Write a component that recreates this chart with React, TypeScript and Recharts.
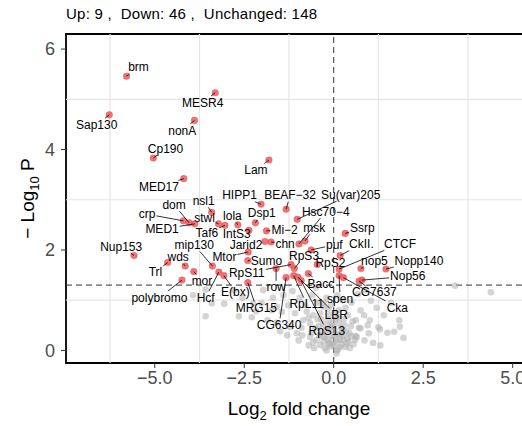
import React from 'react';
import { ScatterChart, Scatter, XAxis, YAxis, ReferenceLine, ReferenceArea } from 'recharts';

// ---------- data ----------
const downGenes = ['brm','MESR4','Sap130','nonA','Cp190','MED17','Lam','HIPP1','BEAF\u221232','Su(var)205','Hsc70\u22124','nsl1','crp','dom','MED1','stwl','Taf6','lola','IntS3','Dsp1','Mi\u22122','msk','chn','Jarid2','puf','Nup153','mip130','Mtor','Sumo','wds','Trl','mor','polybromo','Hcf','E(bx)','RpS11','RpS3','RpS2','row','MRG15','Bacc','RpL11','CG6340','RpS13','LBR'];
const downLog2FC = [-5.79,-3.31,-6.27,-3.89,-5.04,-4.19,-1.81,-2.03,-1.33,-1.02,-0.97,-3.41,-4.20,-4.04,-3.88,-3.22,-3.04,-2.68,-2.37,-2.19,-1.88,-0.80,-1.75,-1.92,-0.63,-5.58,-3.39,-2.39,-2.40,-4.15,-4.64,-3.91,-4.24,-3.21,-3.07,-1.19,-1.10,-0.46,-1.61,-2.40,-0.71,-1.12,-1.33,-0.91,-1.00];
const downNegLogP = [5.46,5.13,4.69,4.58,3.83,3.42,3.79,2.91,2.81,2.61,2.12,2.75,2.58,2.54,2.52,2.52,2.49,2.50,2.39,2.54,2.38,2.18,2.16,2.17,2.00,1.89,1.68,1.96,1.79,1.68,1.75,1.57,1.40,1.56,1.49,1.71,1.63,1.71,1.63,1.35,1.53,1.49,1.45,1.39,1.46];

const upGenes = ['Ssrp','CkII.','CTCF','nop5','Nopp140','Nop56','CG7637','spen','Cka'];
const upLog2FC = [0.32,0.18,0.15,0.76,1.46,0.79,0.71,0.15,0.27];
const upNegLogP = [2.33,1.89,1.62,1.63,1.62,1.40,1.38,1.49,1.45];

const unchanged: [number, number][] = [
  [-3.93,1.10],[-3.58,1.21],[-3.41,0.94],[-3.06,0.93],[-3.58,0.68],[-2.65,0.68],[-2.29,0.66],[-2.17,0.78],[-2.55,1.05],[-2.02,0.94],[-2.25,0.94],[-1.97,1.20],[-2.80,1.20],
  [-1.73,0.80],[-1.59,0.87],[-1.45,0.77],[-1.27,0.90],[-1.08,0.74],[-1.22,0.47],[-1.03,0.34],[-1.60,0.55],[-1.85,0.60],[-1.40,1.10],[-1.15,1.18],[-0.95,1.05],[-1.30,0.30],[-0.90,0.45],[-1.50,0.38],[-0.85,0.60],[-0.98,0.20],[-1.70,1.05],
  [-0.75,0.77],[-0.57,0.70],[-0.38,0.74],[-0.66,0.54],[-0.52,0.44],[-0.34,0.37],[-0.24,0.27],[-0.48,0.21],[-0.66,0.27],[-0.38,0.11],[-0.20,0.00],[-0.29,0.87],[-0.15,0.60],[-0.10,0.45],[-0.05,0.30],[-0.12,0.15],[-0.30,0.52],[-0.45,0.95],[-0.60,1.10],[-0.20,1.05],[-0.70,0.10],[-0.55,0.05],[-0.40,0.30],[-0.28,0.18],[-0.18,0.38],[-0.08,0.08],[-0.35,0.62],[-0.62,0.35],[-0.80,0.90],[-0.15,0.82],[-0.50,1.25],[-0.25,0.05],[-0.42,0.48],[-0.03,0.55],[-0.10,0.70],
  [0.08,0.00],[0.18,0.07],[0.36,0.14],[0.27,0.21],[0.60,0.21],[0.64,0.27],[0.44,0.34],[0.53,0.58],[0.18,0.21],[0.41,0.17],[0.32,0.07],[0.08,-0.06],[0.27,0.30],[0.61,0.29],[0.05,0.15],[0.12,0.32],[0.20,0.45],[0.05,0.62],[0.30,0.50],[0.15,0.80],[0.40,0.70],[0.25,1.00],[0.10,1.10],[0.50,0.95],[0.70,0.45],[0.02,0.40],[0.22,0.12],[0.45,0.05],[0.12,0.02],[0.55,0.12],[0.35,0.38],[0.75,0.80],[0.68,1.12],[0.48,0.48],
  [1.01,0.60],[1.25,0.46],[1.29,0.42],[0.98,0.34],[1.50,0.35],[1.69,0.37],[1.83,0.60],[1.85,0.47],[1.04,0.99],[0.75,0.44],[0.86,0.20],[1.10,0.15],[1.40,0.70],[1.20,0.85],[0.90,1.20],[1.60,0.95],[1.95,0.25],[1.30,0.10],[0.95,0.50],
  [3.39,1.29],[4.39,1.16],
  [-0.05,0.20],[0.00,0.10],[-0.15,0.12],[0.10,0.22],[0.02,0.28],[-0.22,0.42],[0.15,0.55],[-0.32,0.28],[0.28,0.62],[-0.08,0.90],[0.05,0.75],[0.38,0.24],[-0.58,0.16],[0.20,0.33],[-0.12,0.50],[0.48,0.28],[-0.45,0.62],[0.62,0.60],[-0.70,0.65],[-0.28,0.95],[0.33,0.85],[0.85,0.70],[-0.88,0.30],[0.00,0.48],[-0.18,0.22],[0.25,0.40],[0.12,0.66]
];

const xTicks = [-5, -2.5, 0, 2.5, 5];
const yTicks = [0, 2, 4, 6];
const xMinorGrid = [-6.25, -3.75, -1.25, 1.25, 3.75];
const yMinorGrid = [1, 3, 5];
const xDomain: [number, number] = [-7.48, 5.54];
const yDomain: [number, number] = [-0.25, 6.3];
const pCutoff = 1.301;
const fcCutoff = 0;
const subtitle = 'Up: 9 ,\u00A0\u00A0Down: 46 ,\u00A0\u00A0Unchanged: 148';

// ---------- layout (label offsets in px from point to label centre) ----------
const labelOffsets: Record<string, [number, number]> = {
  'brm': [12, -8.7], 'MESR4': [-12.6, 9.8], 'Sap130': [-12.6, 9.7], 'nonA': [-12.2, 10.2], 'Cp190': [12.2, -9.3],
  'MED17': [-24.8, 8.3], 'Lam': [-13, 10], 'HIPP1': [-21.5, -9], 'BEAF\u221232': [4, -14], 'Su(var)205': [53.5, -24.6],
  'Hsc70\u22124': [26.8, -32.3], 'nsl1': [-8, -11.6], 'crp': [-36.3, -6.7], 'dom': [-15, -18.2], 'MED1': [-32.8, 5.2],
  'stwl': [-14, -6.2], 'Taf6': [-18, 7.7], 'lola': [-5.4, -8.9], 'IntS3': [-12.2, 3.5], 'Dsp1': [6.4, -9.4],
  'Mi\u22122': [18.2, -1.2], 'msk': [9.2, -13], 'chn': [14, 2], 'Jarid2': [-19, 4], 'puf': [23.2, -5.3],
  'Nup153': [-12.8, -8.8], 'mip130': [-18.1, -21], 'Mtor': [-23.8, 5.5], 'Sumo': [18.7, 0.5], 'wds': [-7, -8.8],
  'Trl': [-12.2, 9.3], 'mor': [8.2, 9.5], 'polybromo': [-22.5, 17.5], 'Hcf': [-13.2, 25.5], 'E(bx)': [11.5, 16],
  'RpS11': [-44.3, 8.5], 'RpS3': [9.7, -12.1], 'RpS2': [13.2, -1.8], 'row': [0, 18.8], 'MRG15': [8.5, 25.2],
  'Bacc': [12.5, 10], 'RpL11': [13, 28.5], 'CG6340': [-7, 47.3], 'RpS13': [25.7, 50.2], 'LBR': [38.3, 37.5],
  'Ssrp': [17.2, -5.3], 'CkII.': [21.3, -11.3], 'CTCF': [61, -25.2], 'nop5': [13.5, -7.8], 'Nopp140': [33, -8.5],
  'Nop56': [45.8, -3.8], 'CG7637': [15.3, 11.3], 'spen': [1, 23], 'Cka': [54, 29.9],
};

const FONT = "'Liberation Sans', Arial, Helvetica, sans-serif";
const LABEL_SIZE = 12;

let ctx: CanvasRenderingContext2D | null = null;
function textWidth(s: string): number {
  if (!ctx) {
    const c = document.createElement('canvas');
    ctx = c.getContext('2d');
  }
  if (ctx) {
    ctx.font = `${LABEL_SIZE}px ${FONT}`;
    return ctx.measureText(s).width;
  }
  return s.length * LABEL_SIZE * 0.55;
}

const downData = downGenes.map((g, i) => ({ gene: g, x: downLog2FC[i], y: downNegLogP[i] }));
const upData = upGenes.map((g, i) => ({ gene: g, x: upLog2FC[i], y: upNegLogP[i] }));
const sigData = [...downData, ...upData];
const nsData = unchanged.map(([x, y]) => ({ x, y }));

const RedDot = (p: any) => (
  <circle cx={p.cx} cy={p.cy} r={3.3} fill="#EF5B5B" fillOpacity={0.85} stroke="#E04848" strokeWidth={0.4} />
);
const GreyDot = (p: any) => (
  <circle cx={p.cx} cy={p.cy} r={3.3} fill="#B0B0B0" fillOpacity={0.55} />
);

const GeneLabel = (p: any) => {
  const gene: string = p.payload.gene;
  const off = labelOffsets[gene] || [10, -10];
  const tx = p.cx + off[0];
  const ty = p.cy + off[1];
  const w = textWidth(gene);
  const hw = w / 2 + 1;
  const hh = 6.5;
  const vx = p.cx - tx;
  const vy = p.cy - ty;
  const sx = Math.abs(vx) > 1e-6 ? hw / Math.abs(vx) : Infinity;
  const sy = Math.abs(vy) > 1e-6 ? hh / Math.abs(vy) : Infinity;
  const s = Math.min(sx, sy);
  let line = null;
  if (s < 1) {
    const ex = tx + vx * s;
    const ey = ty + vy * s;
    const len = Math.hypot(p.cx - ex, p.cy - ey);
    if (len > 2) {
      line = <line x1={p.cx} y1={p.cy} x2={ex} y2={ey} stroke="#000" strokeWidth={0.8} />;
    }
  }
  return (
    <g>
      {line}
      <text x={tx} y={ty} textAnchor="middle" dominantBaseline="central" fontSize={LABEL_SIZE} fontFamily={FONT} fill="#000">{gene}</text>
    </g>
  );
};

// minor grid drawn through the chart's own scales (via a Scatter shape hook)
const GridLayer = (p: any) => {
  const xs = p.xAxis?.scale;
  const ys = p.yAxis?.scale;
  if (!xs || !ys || p.index !== 0) return <g />;
  const fx = typeof xs === 'function' ? xs : (v: number) => xs.map ? xs.map(v) : NaN;
  const fy = typeof ys === 'function' ? ys : (v: number) => ys.map ? ys.map(v) : NaN;
  const x0 = fx(xDomain[0]);
  const x1 = fx(xDomain[1]);
  const y0 = fy(yDomain[0]);
  const y1 = fy(yDomain[1]);
  return (
    <g>
      {xMinorGrid.map((v) => (
        <line key={'gx' + v} x1={fx(v)} x2={fx(v)} y1={y0} y2={y1} stroke="#EBEBEB" strokeWidth={1.2} />
      ))}
      {yMinorGrid.map((v) => (
        <line key={'gy' + v} x1={x0} x2={x1} y1={fy(v)} y2={fy(v)} stroke="#EBEBEB" strokeWidth={1.2} />
      ))}
    </g>
  );
};

const fmtX = (v: number) => (v < 0 ? '\u2212' : '') + Math.abs(v).toFixed(1);

export default function App() {
  return (
    <div style={{ position: 'absolute', left: 0, top: 0, width: 522, height: 426, overflow: 'hidden', background: '#fff', fontFamily: FONT }}>
      <div style={{ position: 'absolute', left: 0, top: 0 }}>
        <ScatterChart width={540} height={426} margin={{ top: 34, right: 8, bottom: 0, left: 0 }}>
          <XAxis type="number" dataKey="x" domain={xDomain} allowDataOverflow ticks={xTicks} tickFormatter={fmtX}
            height={63} tickSize={5} tickMargin={3} axisLine={false} tickLine={{ stroke: '#333', strokeWidth: 1 }}
            tick={{ fill: '#4D4D4D', fontSize: 18, fontFamily: FONT }} interval={0} />
          <YAxis type="number" dataKey="y" domain={yDomain} allowDataOverflow ticks={yTicks}
            width={66} tickSize={5} tickMargin={6} axisLine={false} tickLine={{ stroke: '#333', strokeWidth: 1 }}
            tick={{ fill: '#4D4D4D', fontSize: 18, fontFamily: FONT }} interval={0} />
          {xMinorGrid.map((v) => (
            <ReferenceLine key={'rx' + v} x={v} stroke="#E6E6E6" strokeWidth={1.2} ifOverflow="visible" />
          ))}
          {yMinorGrid.map((v) => (
            <ReferenceLine key={'ry' + v} y={v} stroke="#E6E6E6" strokeWidth={1.2} ifOverflow="visible" />
          ))}
          <Scatter data={nsData} shape={GreyDot} isAnimationActive={false} />
          <ReferenceLine x={fcCutoff} stroke="#333" strokeWidth={1} strokeDasharray="6 4" />
          <ReferenceLine y={pCutoff} stroke="#333" strokeWidth={1} strokeDasharray="6 4" />
          <Scatter data={sigData} shape={RedDot} isAnimationActive={false} />
          <Scatter data={sigData} shape={GeneLabel} isAnimationActive={false} />
          <ReferenceArea x1={xDomain[0]} x2={xDomain[1]} y1={yDomain[0]} y2={yDomain[1]} fill="none" fillOpacity={0} stroke="#000" strokeWidth={1.8} ifOverflow="visible" />
        </ScatterChart>
      </div>
      <svg width={522} height={426} style={{ position: 'absolute', left: 0, top: 0, pointerEvents: 'none' }}>
        <text x={66} y={19.3} fontSize={15} letterSpacing={0.25} fontFamily={FONT} fill="#000">{subtitle}</text>
        <text x={299} y={414.5} textAnchor="middle" fontSize={19} fontFamily={FONT} fill="#000">
          Log<tspan fontSize={13} dy={5}>2</tspan><tspan dy={-5}> fold change</tspan>
        </text>
        <text x={34} y={198.5} textAnchor="middle" fontSize={19} fontFamily={FONT} fill="#000" transform="rotate(-90 34 198.5)">
          {'\u2212 Log'}<tspan fontSize={13} dy={5}>10</tspan><tspan dy={-5}> P</tspan>
        </text>
      </svg>
    </div>
  );
}
